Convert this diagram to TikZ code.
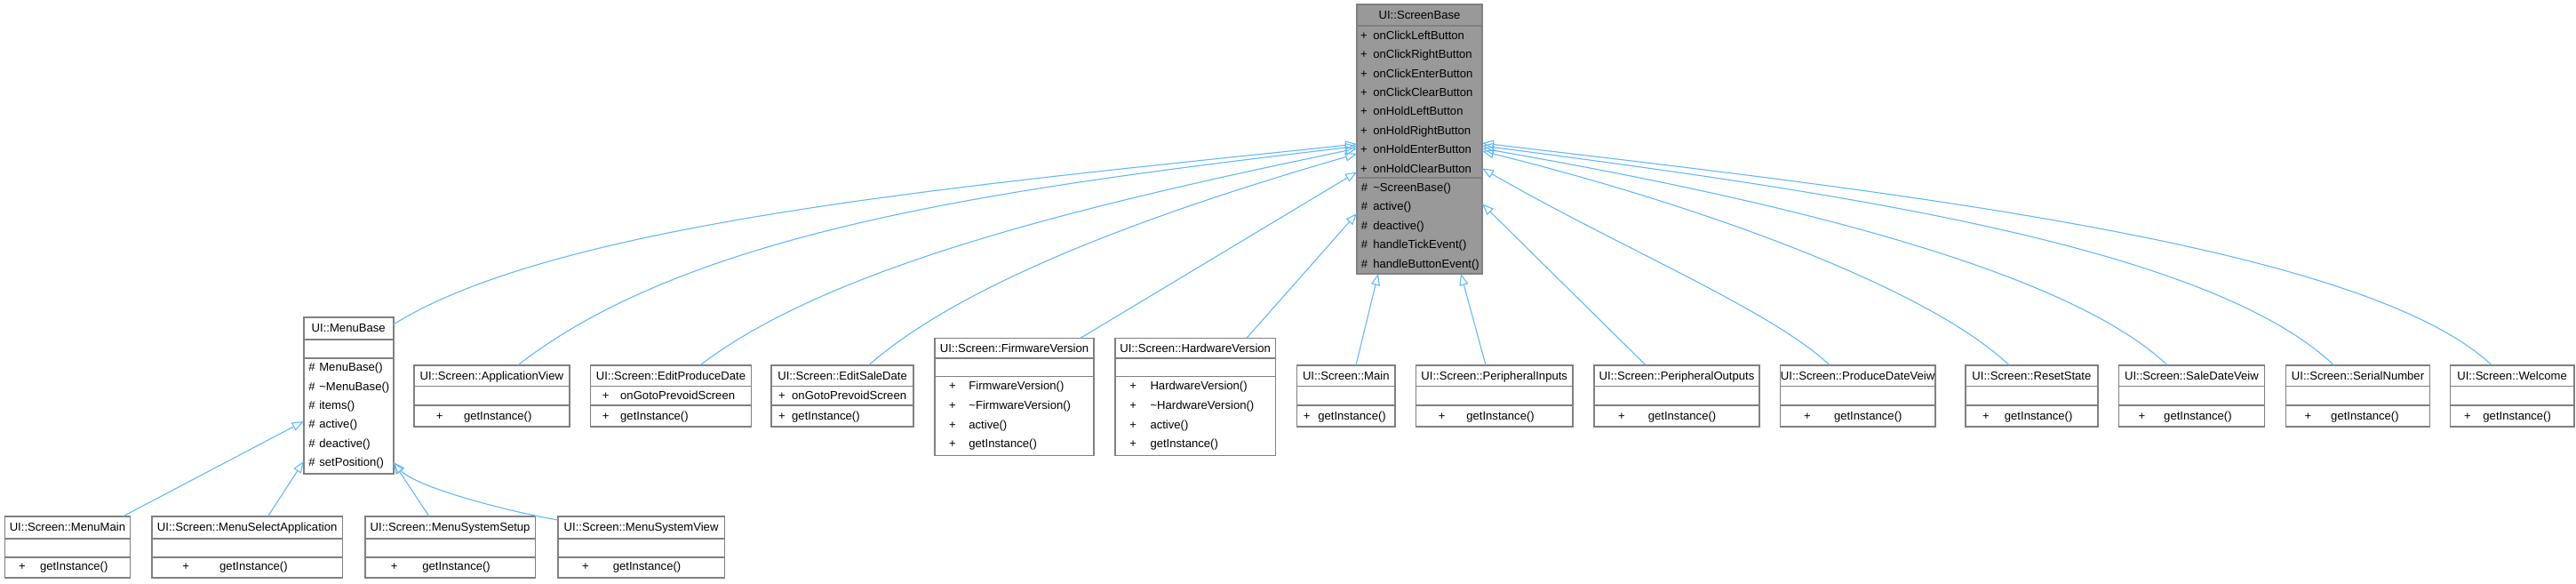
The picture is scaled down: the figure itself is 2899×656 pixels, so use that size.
\documentclass[tikz,border=0pt]{standalone}
\usepackage{fontspec}
\setmainfont{Liberation Sans}
\usetikzlibrary{arrows.meta,fit}
\definecolor{edgeblue}{HTML}{63B8FF}
\definecolor{boxgray}{HTML}{808080}
\definecolor{basegray}{HTML}{999999}
\newcommand\dfs{\fontsize{13.1}{15}\selectfont}
\tikzset{
  cls/.style={draw=boxgray, line width=1.6pt, fill=white, inner sep=0pt, outer sep=0pt},
  basecls/.style={cls, fill=basegray},
  sepline/.style={draw=boxgray, line width=1.6pt},
  txt/.style={inner sep=0pt, outer sep=0pt, font=\dfs, anchor=base west},
  ctxt/.style={txt, anchor=base},
  inh/.style={draw=edgeblue, line width=1.1pt, -{Triangle[open, length=13pt, width=10pt]}},
}
% bottom-row class: name, x1, x2, header, plus x, member x
\newcommand\botcls[6]{%
  \node[cls, fit={(#2,580.7)(#3,650)}] (#1) {};
  \draw[sepline] (#1.west |- 0,605.7) -- (#1.east |- 0,605.7);
  \draw[sepline] (#1.west |- 0,626.7) -- (#1.east |- 0,626.7);
  \node[ctxt] (#1-h) at ({(#2+#3)/2}, 597.7) {#4};
  \node[ctxt] (#1-p) at (#5, 641.8) {+};
  \node[txt] (#1-n) at (#6, 641.8) {getInstance()};
}
% middle-row small class: name, x1, x2, header, plus x, member x
\newcommand\midcls[6]{%
  \node[cls, fit={(#2,410.7)(#3,480)}] (#1) {};
  \draw[sepline] (#1.west |- 0,434.3) -- (#1.east |- 0,434.3);
  \draw[sepline] (#1.west |- 0,456) -- (#1.east |- 0,456);
  \node[ctxt] (#1-h) at ({(#2+#3)/2}, 427) {#4};
  \node[ctxt] (#1-p) at (#5, 472.5) {+};
  \node[txt] (#1-n) at (#6, 472.5) {getInstance()};
}
\begin{document}
\begin{tikzpicture}[x=1pt,y=-1pt]
\fill[white] (0,0) rectangle (2899,656);
\useasboundingbox (0,0) rectangle (2899,656);

% ---------------- UI::ScreenBase ----------------
\node[basecls, fit={(1527,5)(1668,308)}] (sb) {};
\draw[sepline] (sb.west |- 0,29) -- (sb.east |- 0,29);
\draw[sepline] (sb.west |- 0,200) -- (sb.east |- 0,200);
\node[ctxt] (sb-h) at (1597.5,21.5) {UI::ScreenBase};
\foreach \t [count=\i from 0] in {onClickLeftButton,onClickRightButton,onClickEnterButton,onClickClearButton,onHoldLeftButton,onHoldRightButton,onHoldEnterButton,onHoldClearButton}{
  \node[ctxt] (sb-ap\i) at (1535,{44.2+21.4*\i}) {+};
  \node[txt] (sb-a\i) at (1545.3,{44.2+21.4*\i}) {\t};
}
\foreach \t [count=\i from 0] in {\textasciitilde ScreenBase(),active(),deactive(),handleTickEvent(),handleButtonEvent()}{
  \node[ctxt] (sb-mp\i) at (1535.5,{215.3+21.5*\i}) {\#};
  \node[txt] (sb-m\i) at (1545.3,{215.3+21.5*\i}) {\t};
}

% ---------------- UI::MenuBase ----------------
\node[cls, fit={(341.7,356.7)(442.7,533)}] (mb) {};
\draw[sepline] (mb.west |- 0,381.7) -- (mb.east |- 0,381.7);
\draw[sepline] (mb.west |- 0,402.7) -- (mb.east |- 0,402.7);
\node[ctxt] (mb-h) at (392.2,373.7) {UI::MenuBase};
\foreach \t [count=\i from 0] in {MenuBase(),\textasciitilde MenuBase(),items(),active(),deactive(),setPosition()}{
  \node[ctxt] (mb-mp\i) at (351,{417.8+21.3*\i}) {\#};
  \node[txt] (mb-m\i) at (359.3,{417.8+21.3*\i}) {\t};
}

% ---------------- bottom row ----------------
\botcls{mm}{5.3}{146.6}{UI::Screen::MenuMain}{24.9}{45}
\botcls{msa}{171}{385.4}{UI::Screen::MenuSelectApplication}{209.1}{247.2}
\botcls{mss}{410.8}{602.4}{UI::Screen::MenuSystemSetup}{443.6}{475.4}
\botcls{msv}{627.9}{815.3}{UI::Screen::MenuSystemView}{659}{689.8}

% ---------------- middle row ----------------
\midcls{av}{465.7}{640.9}{UI::Screen::ApplicationView}{494.6}{522}
\midcls{epd}{664.6}{845.3}{UI::Screen::EditProduceDate}{681.6}{698.2}
\node[ctxt] (epd-ap) at (681.6,449.7) {+};
\node[txt] (epd-a) at (698.2,449.7) {onGotoPrevoidScreen};
\midcls{esd}{868.2}{1028}{UI::Screen::EditSaleDate}{880}{891.2}
\node[ctxt] (esd-ap) at (880,449.7) {+};
\node[txt] (esd-a) at (891.2,449.7) {onGotoPrevoidScreen};

\node[cls, fit={(1052,380.3)(1231,512.3)}] (fw) {};
\draw[sepline] (fw.west |- 0,402.7) -- (fw.east |- 0,402.7);
\draw[sepline] (fw.west |- 0,423.3) -- (fw.east |- 0,423.3);
\node[ctxt] (fw-h) at (1141.5,396) {UI::Screen::FirmwareVersion};
\foreach \t [count=\i from 0] in {FirmwareVersion(),\textasciitilde FirmwareVersion(),active(),getInstance()}{
  \node[ctxt] (fw-mp\i) at (1072,{438.8+21.6*\i}) {+};
  \node[txt] (fw-m\i) at (1090.4,{438.8+21.6*\i}) {\t};
}
\node[cls, fit={(1255,380.3)(1435.5,512.3)}] (hw) {};
\draw[sepline] (hw.west |- 0,402.7) -- (hw.east |- 0,402.7);
\draw[sepline] (hw.west |- 0,423.3) -- (hw.east |- 0,423.3);
\node[ctxt] (hw-h) at (1345.2,396) {UI::Screen::HardwareVersion};
\foreach \t [count=\i from 0] in {HardwareVersion(),\textasciitilde HardwareVersion(),active(),getInstance()}{
  \node[ctxt] (hw-mp\i) at (1275.3,{438.8+21.6*\i}) {+};
  \node[txt] (hw-m\i) at (1294.5,{438.8+21.6*\i}) {\t};
}

\midcls{mn}{1459.6}{1570}{UI::Screen::Main}{1470.8}{1483.3}
\midcls{pin}{1593.6}{1769.9}{UI::Screen::PeripheralInputs}{1622.6}{1650.3}
\midcls{pout}{1794}{1980}{UI::Screen::PeripheralOutputs}{1825}{1854.8}
\midcls{pdv}{2003.3}{2177.8}{UI::Screen::ProduceDateVeiw}{2034}{2064}
\midcls{rs}{2212}{2360.8}{UI::Screen::ResetState}{2234.8}{2255.9}
\midcls{sdv}{2384.4}{2548.4}{UI::Screen::SaleDateVeiw}{2410.5}{2435.2}
\midcls{sn}{2572.4}{2734.6}{UI::Screen::SerialNumber}{2597.4}{2623.2}
\midcls{wc}{2757.4}{2896.8}{UI::Screen::Welcome}{2777}{2794.4}

% ---------------- inheritance edges ----------------
\draw[inh] (138.7,0 |- mm.north) -- (mb.west |- 0,474);
\draw[inh] (301.7,0 |- msa.north) -- (mb.west |- 0,519);
\draw[inh] (482.8,0 |- mss.north) -- (mb.east |- 0,520);
\draw[inh] (msv.west |- 0,585) .. controls (570,575) and (468,548) .. (mb.east |- 0,520);

\draw[inh] (mb.east |- 0,365) .. controls (630.4,248) and (1099,207.6) .. (sb.west |- 0,162);
\draw[inh] (583,0 |- av.north) .. controls (783,254.7) and (1149.4,209.9) .. (sb.west |- 0,164.5);
\draw[inh] (788,0 |- epd.north) .. controls (936.4,297.6) and (1229.6,228.7) .. (sb.west |- 0,167);
\draw[inh] (977.7,0 |- esd.north) .. controls (1085.7,316.1) and (1302.6,237.7) .. (sb.west |- 0,173);
\draw[inh] (1216,0 |- fw.north) -- (sb.west |- 0,193.5);
\draw[inh] (1403,0 |- hw.north) -- (sb.west |- 0,240);
\draw[inh] (1526,0 |- mn.north) -- (1551,0 |- sb.south);
\draw[inh] (1672,0 |- pin.north) -- (1644,0 |- sb.south);
\draw[inh] (1852,0 |- pout.north) -- (sb.east |- 0,229.3);
\draw[inh] (2059,0 |- pdv.north) .. controls (1993.6,348.9) and (1820,277.2) .. (sb.east |- 0,189.3);
\draw[inh] (2261,0 |- rs.north) .. controls (2167.9,322.7) and (1910.2,229.9) .. (sb.east |- 0,170);
\draw[inh] (2439,0 |- sdv.north) .. controls (2321.1,299.3) and (1979.2,221.2) .. (sb.east |- 0,167);
\draw[inh] (2626.4,0 |- sn.north) .. controls (2482.1,274.3) and (2050.7,214.1) .. (sb.east |- 0,164);
\draw[inh] (2804,0 |- wc.north) .. controls (2660,275) and (2119,214.5) .. (sb.east |- 0,161);
\end{tikzpicture}
\end{document}
